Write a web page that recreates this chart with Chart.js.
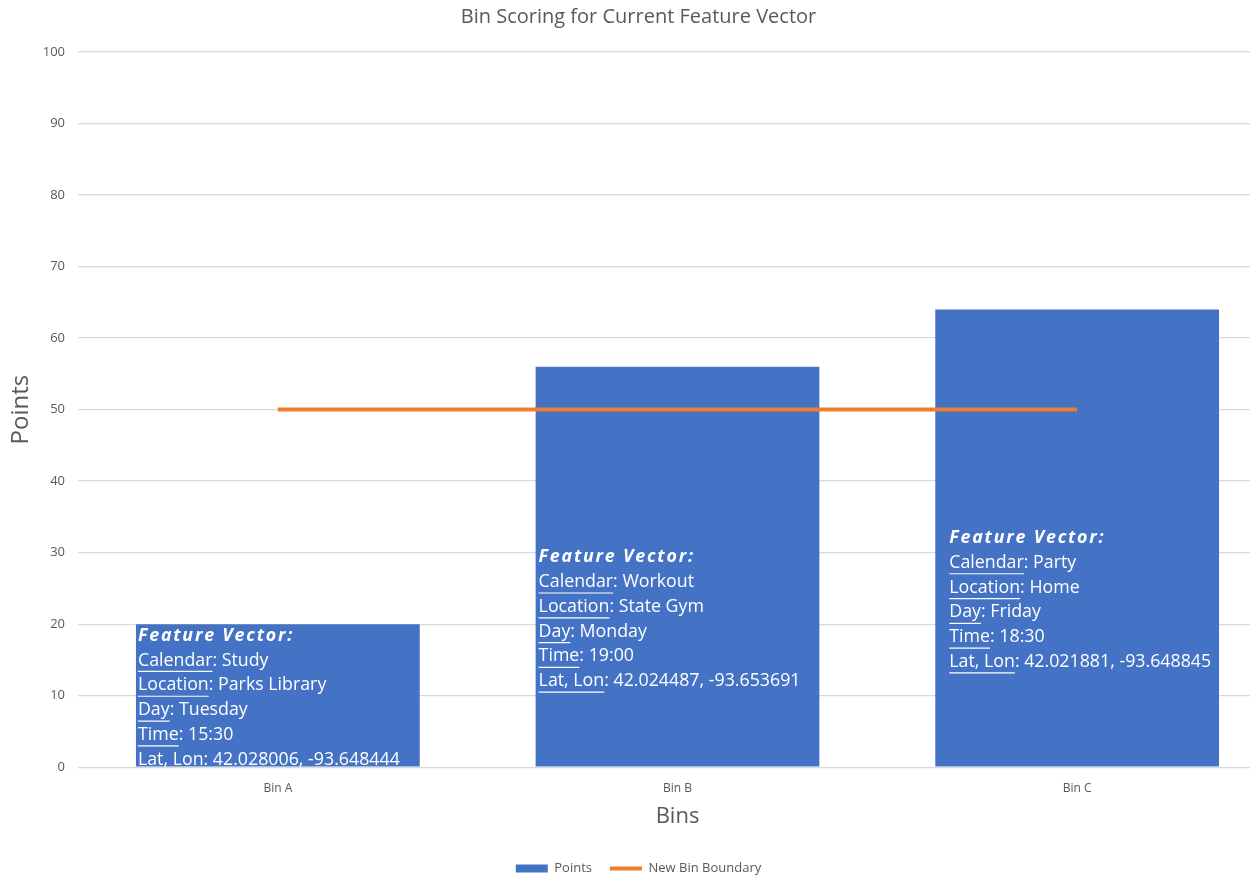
<!DOCTYPE html>
<html>
<head>
<meta charset="utf-8">
<title>Bin Scoring</title>
<script src="https://cdn.jsdelivr.net/npm/chart.js@4.4.0/dist/chart.umd.min.js"></script>
<style>
  html, body { margin: 0; padding: 0; background: #fff; overflow: hidden; }
  #wrap { width: 1277px; height: 875px; }
</style>
</head>
<body>
<div id="wrap"><canvas id="grafica" width="1277" height="875"></canvas></div>
<script>
// datos del grafico
const bins = ['Bin A', 'Bin B', 'Bin C'];
const puntos = [20, 56, 64];
const limite = [50, 50, 50];
const yTicks = [0, 10, 20, 30, 40, 50, 60, 70, 80, 90, 100];

// vector de caracteristicas de cada bin
const calendario = ['Study', 'Workout', 'Party'];
const ubicacion = ['Parks Library', 'State Gym', 'Home'];
const dia = ['Tuesday', 'Monday', 'Friday'];
const hora = ['15:30', '19:00', '18:30'];
const latLon = ['42.028006, -93.648444', '42.024487, -93.653691', '42.021881, -93.648845'];

const FUENTE = "'Open Sans', 'Noto Sans', sans-serif";
const GRIS = '#595959';

// posicion del texto dentro de cada barra (desde la esquina superior izquierda)
const desplazamientos = [{ x: 2, y: 11.5 }, { x: 3, y: 190.5 }, { x: 14, y: 228.5 }];

const textoBarras = {
    id: 'textoBarras',
    afterDatasetsDraw(chart) {
        const meta = chart.getDatasetMeta(1);
        const ctx = chart.ctx;
        const alto = 24.8;
        ctx.save();
        ctx.fillStyle = '#fff';
        ctx.strokeStyle = '#fff';
        ctx.lineWidth = 1.2;
        ctx.textBaseline = 'middle';
        ctx.textAlign = 'left';
        meta.data.forEach((bar, i) => {
            const x0 = bar.x - bar.width / 2 + desplazamientos[i].x;
            let y = bar.y + desplazamientos[i].y;

            ctx.font = `italic bold 17.8px ${FUENTE}`;
            ctx.letterSpacing = '1.8px';
            ctx.fillText('Feature Vector:', x0, y);
            ctx.letterSpacing = '0px';

            const filas = [
                ['Calendar', calendario[i]],
                ['Location', ubicacion[i]],
                ['Day', dia[i]],
                ['Time', hora[i]],
                ['Lat, Lon', latLon[i]]
            ];
            ctx.font = `17.8px ${FUENTE}`;
            filas.forEach(([clave, valor]) => {
                y += alto;
                ctx.fillText(clave, x0, y);
                const w = ctx.measureText(clave).width;
                ctx.beginPath();
                ctx.moveTo(x0, y + 11);
                ctx.lineTo(x0 + w, y + 11);
                ctx.stroke();
                ctx.fillText(': ' + valor, x0 + w, y);
            });
        });
        ctx.restore();
    }
};

// separacion horizontal amplia entre entradas de la leyenda sin agrandar su alto
const ajusteLeyenda = {
    id: 'ajusteLeyenda',
    beforeLayout(chart) {
        const lg = chart.legend;
        if (lg && !lg._ajustado) {
            const fitOriginal = lg.fit.bind(lg);
            lg.fit = function () {
                fitOriginal();
                this.height -= 10;
            };
            lg._ajustado = true;
        }
    }
};

const ctx = document.getElementById('grafica').getContext('2d');

new Chart(ctx, {
    type: 'bar',
    data: {
        labels: bins,
        datasets: [
            {
                type: 'line',
                label: 'New Bin Boundary',
                data: limite,
                borderColor: '#ED7D31',
                backgroundColor: '#ED7D31',
                borderWidth: 4,
                pointRadius: 0,
                pointStyle: 'line',
                order: 0
            },
            {
                label: 'Points',
                data: puntos,
                backgroundColor: '#4472C4',
                borderWidth: 0,
                barPercentage: 0.71,
                categoryPercentage: 1,
                pointStyle: 'rect',
                order: 1
            }
        ]
    },
    options: {
        responsive: false,
        animation: false,
        layout: { padding: { top: 0, right: 0, bottom: 0, left: 0 } },
        plugins: {
            title: {
                display: true,
                text: 'Bin Scoring for Current Feature Vector',
                color: GRIS,
                font: { family: FUENTE, size: 20, weight: 'normal' },
                padding: { top: 5, bottom: 23 }
            },
            legend: {
                position: 'bottom',
                reverse: true,
                labels: {
                    usePointStyle: true,
                    pointStyleWidth: 32,
                    boxHeight: 8,
                    color: GRIS,
                    font: { family: FUENTE, size: 13 },
                    padding: 18
                }
            },
            tooltip: { enabled: false }
        },
        scales: {
            x: {
                grid: { display: false },
                border: { display: false },
                ticks: { color: GRIS, font: { family: FUENTE, size: 12 }, padding: 6 },
                title: {
                    display: true,
                    text: 'Bins',
                    color: GRIS,
                    font: { family: FUENTE, size: 22 },
                    padding: { top: 2, bottom: 14 }
                }
            },
            y: {
                min: 0,
                max: 100,
                afterBuildTicks: scale => { scale.ticks = yTicks.map(v => ({ value: v })); },
                afterFit: scale => { scale.width = 78; },
                grid: { color: '#d9d9d9', lineWidth: 1.3, drawTicks: false },
                border: { display: false },
                ticks: { color: GRIS, font: { family: FUENTE, size: 13 }, padding: 13 },
                title: {
                    display: true,
                    text: 'Points',
                    color: GRIS,
                    font: { family: FUENTE, size: 24 },
                    padding: { top: 7, bottom: 8 }
                }
            }
        }
    },
    plugins: [textoBarras, ajusteLeyenda]
});
</script>
</body>
</html>
